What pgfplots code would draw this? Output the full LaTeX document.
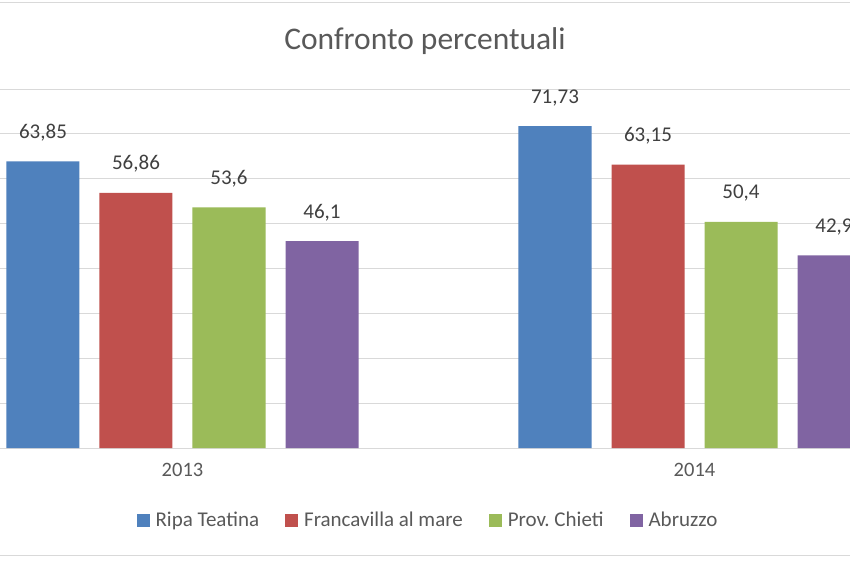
\documentclass[border=0pt]{standalone}
\usepackage{pgfplots}
\pgfplotsset{compat=1.18}
\usepackage{fontspec}
\setmainfont{Carlito}
\definecolor{cblue}{HTML}{4F81BD}
\definecolor{cred}{HTML}{C0504D}
\definecolor{cgreen}{HTML}{9BBB59}
\definecolor{cpurple}{HTML}{8064A2}
\definecolor{gridgray}{HTML}{D9D9D9}
\definecolor{txtdark}{HTML}{404040}
\definecolor{txtgray}{HTML}{595959}
\begin{document}
\begin{tikzpicture}[x=1pt,y=1pt]
\useasboundingbox (0,0) rectangle (850,560);
\clip (0,0) rectangle (850,560);
\fill[white] (0,0) rectangle (850,560);
\draw[gridgray, line width=1pt] (-10,557) -- (860,557);
\draw[gridgray, line width=1pt] (-10,5) -- (860,5);
\node[anchor=base, text=txtgray, font=\fontsize{31.5}{36}\selectfont] at (425,510) {Confronto percentuali};
\begin{axis}[
  at={(-73.5pt,112pt)}, anchor=south west,
  scale only axis, width=1024pt, height=359pt,
  xmin=-0.5, xmax=1.5, ymin=0, ymax=80,
  ybar=20pt, bar width=73pt,
  axis line style={draw=none},
  major tick length=0pt,
  ytick={0,10,...,80}, yticklabels={},
  ymajorgrids, grid style={draw=gridgray, line width=1pt},
  xtick={0,1}, xticklabels={2013,2014},
  xticklabel style={text=txtgray, font=\fontsize{20.5}{24}\selectfont, yshift=-12pt},
  /pgf/number format/assume math mode=true,
  /pgf/number format/use comma,
  /pgf/number format/precision=2,
  nodes near coords,
  every node near coord/.append style={anchor=base, yshift=23pt, inner sep=0pt, text=txtdark, font=\fontsize{21}{24}\selectfont},
  legend columns=4,
  legend style={at={(0.4897,-0.2006)}, anchor=center, draw=none, fill=none,
    font=\fontsize{21}{24}\selectfont, text=txtgray,
    /tikz/every odd column/.append style={column sep=4pt},
    /tikz/every even column/.append style={column sep=24pt},
    inner sep=0pt},
  legend image code/.code={\path[#1, draw=none] (0pt,-6.5pt) rectangle (13pt,6.5pt);},
]
\addplot[fill=cblue, draw=none] coordinates {(0,63.85) (1,71.73)};
\addplot[fill=cred, draw=none] coordinates {(0,56.86) (1,63.15)};
\addplot[fill=cgreen, draw=none] coordinates {(0,53.6) (1,50.4)};
\addplot[fill=cpurple, draw=none] coordinates {(0,46.1) (1,42.9)};
\legend{Ripa Teatina, Francavilla al mare, Prov.\ Chieti, Abruzzo}
\end{axis}
\end{tikzpicture}
\end{document}
